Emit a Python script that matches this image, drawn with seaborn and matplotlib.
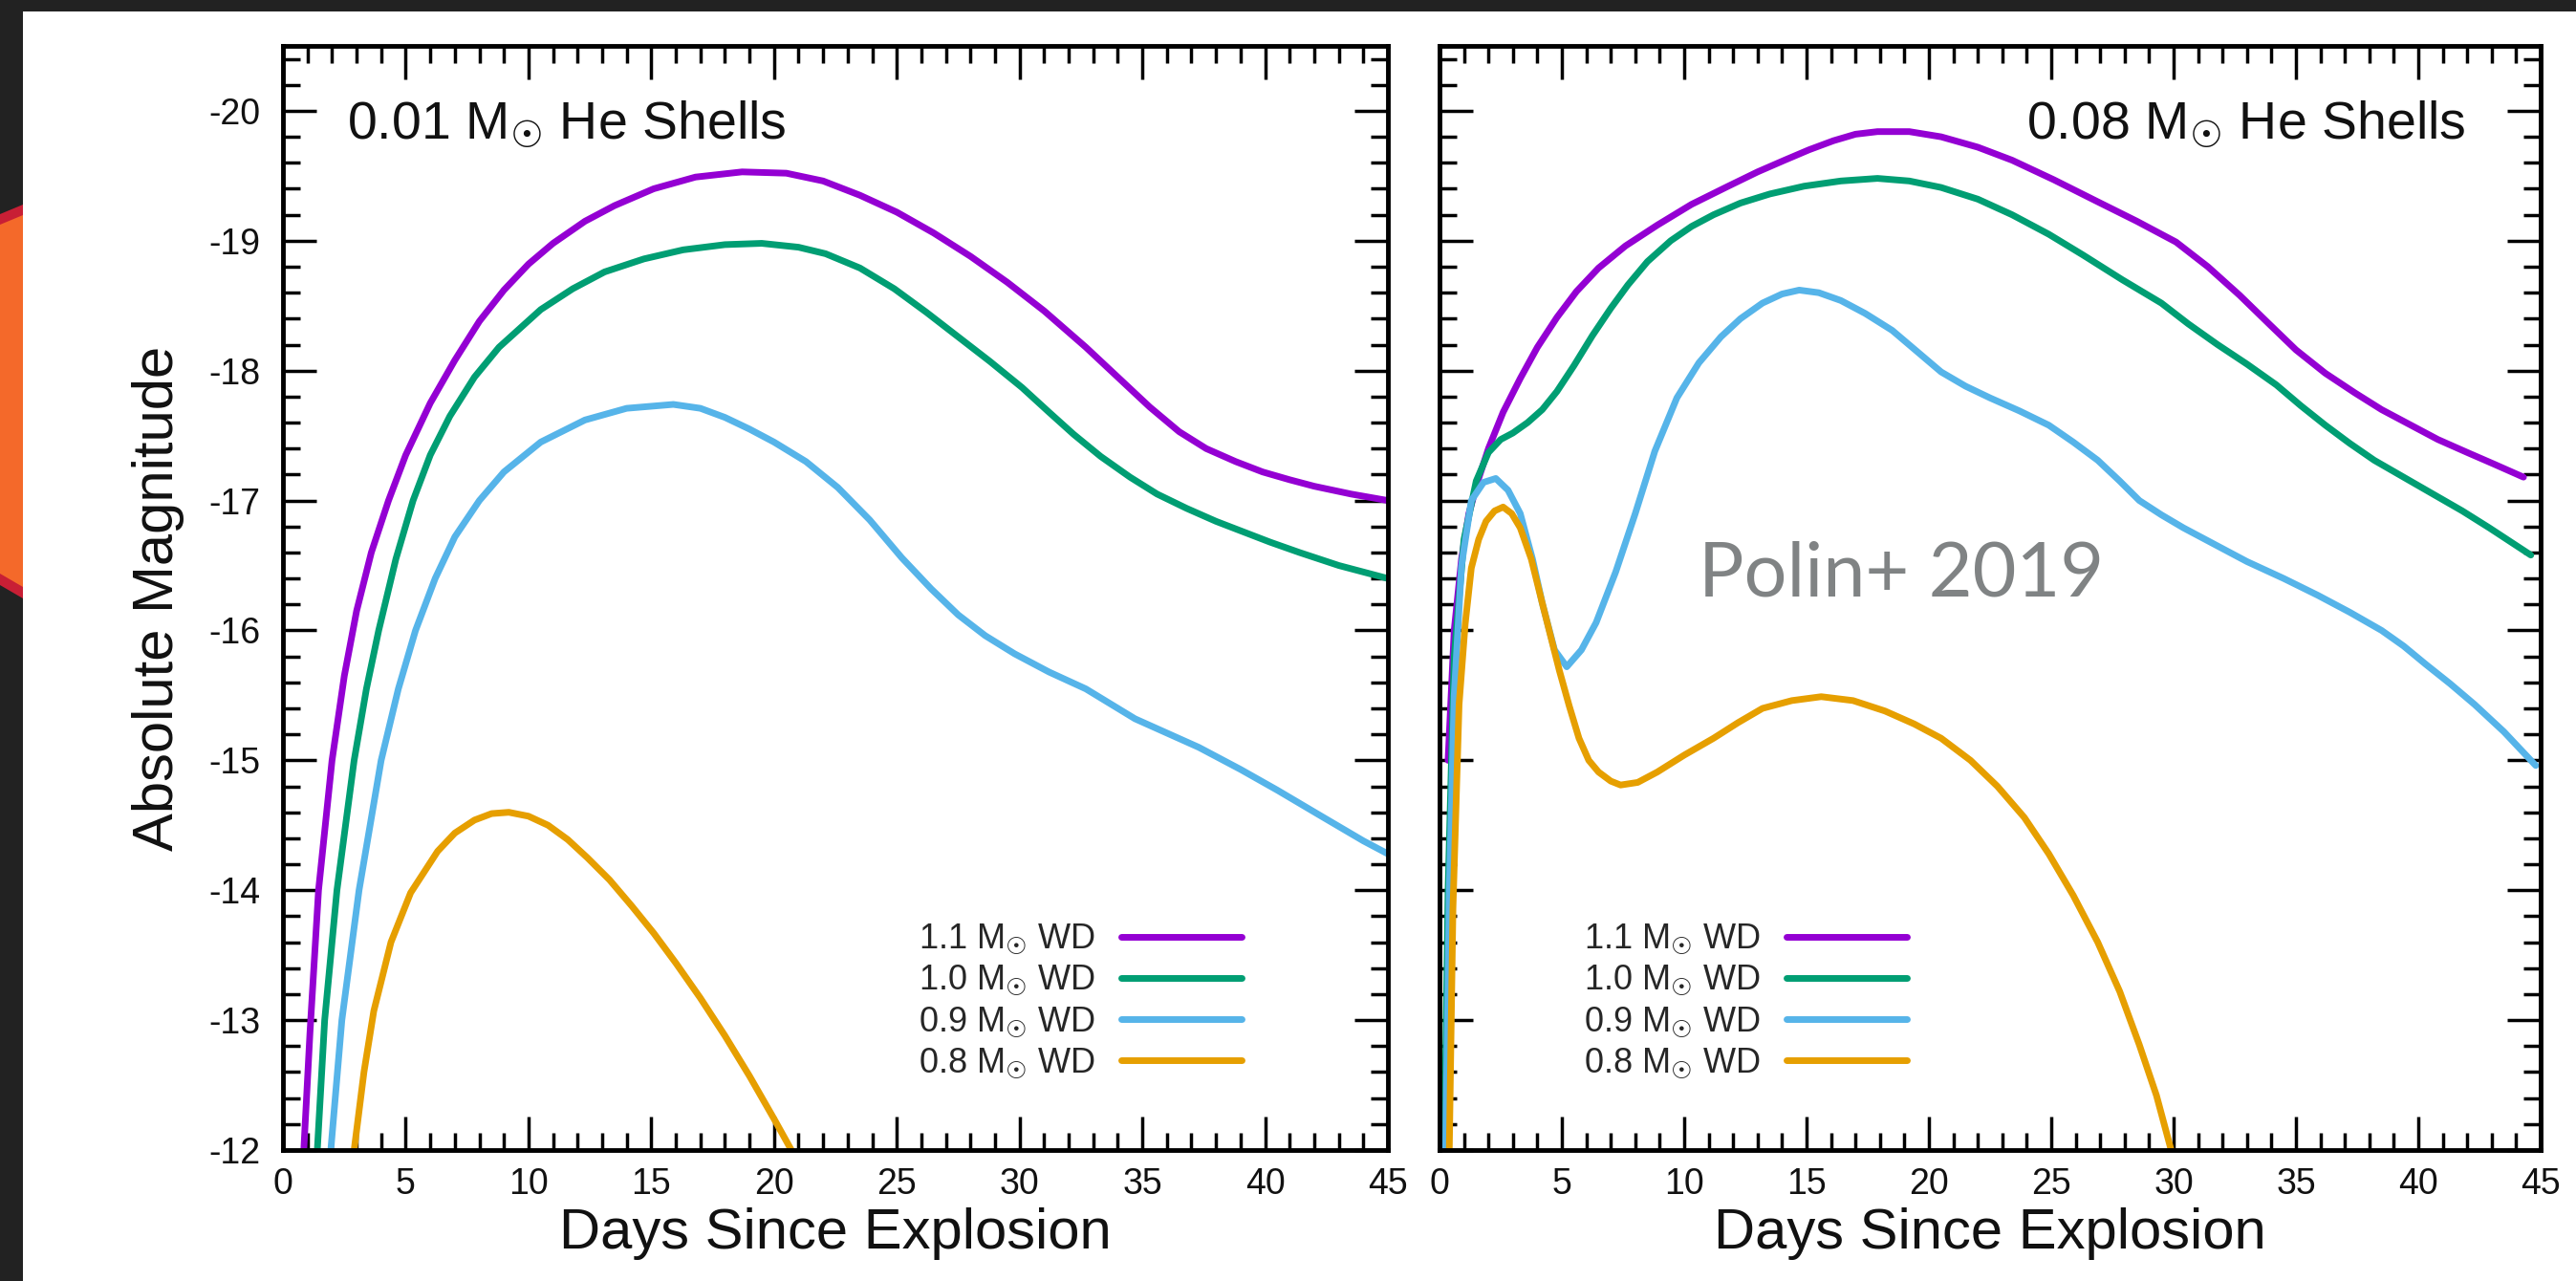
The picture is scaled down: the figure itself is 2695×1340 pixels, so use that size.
import numpy as np
import pandas as pd
import matplotlib
matplotlib.use("Agg")
import matplotlib.pyplot as plt
from matplotlib.patches import Polygon, Rectangle
from matplotlib.ticker import MultipleLocator
import seaborn as sns

# ---------------- data ----------------
labels = ["1.1 M$_{☉}$ WD", "1.0 M$_{☉}$ WD", "0.9 M$_{☉}$ WD", "0.8 M$_{☉}$ WD"]
colors = ["#9400D3", "#009E73", "#56B4E9", "#E69F00"]

# left panel: 0.01 Msun He shells
l11_day = [0.85, 1.1, 1.45, 2.0, 2.5, 3.0, 3.6, 4.3, 5.0, 6.0, 7.0, 8.0, 9.0, 10.0, 11.0, 12.3, 13.5, 15.1, 16.8, 18.7,
           20.5, 22.0, 23.5, 25.0, 26.5, 28.0, 29.5, 31.0, 32.7, 34.0, 35.3, 36.5, 37.6, 38.8, 39.9, 41.0, 42.0, 43.5, 45.0]
l11_mag = [-12.0, -12.9, -14.0, -15.0, -15.65, -16.15, -16.6, -17.0, -17.35, -17.75, -18.08, -18.38, -18.62, -18.82, -18.98, -19.15, -19.27, -19.4, -19.49, -19.53,
           -19.52, -19.46, -19.35, -19.22, -19.06, -18.88, -18.68, -18.46, -18.18, -17.95, -17.72, -17.53, -17.4, -17.3, -17.22, -17.16, -17.11, -17.05, -17.0]
l10_day = [1.4, 1.7, 2.2, 2.9, 3.4, 3.9, 4.6, 5.3, 6.0, 6.8, 7.8, 8.8, 10.5, 11.8, 13.1, 14.7, 16.3, 18.0, 19.5, 21.0,
           22.1, 23.5, 24.9, 26.2, 27.5, 28.8, 30.1, 31.2, 32.2, 33.3, 34.5, 35.6, 36.8, 38.0, 39.1, 40.2, 41.4, 43.0, 45.0]
l10_mag = [-12.0, -13.0, -14.0, -15.0, -15.55, -16.0, -16.55, -17.0, -17.35, -17.65, -17.95, -18.18, -18.47, -18.63, -18.76, -18.86, -18.93, -18.97, -18.98, -18.95,
           -18.9, -18.79, -18.63, -18.45, -18.26, -18.07, -17.87, -17.68, -17.51, -17.34, -17.18, -17.05, -16.94, -16.84, -16.76, -16.68, -16.6, -16.5, -16.4]
l09_day = [1.95, 2.4, 3.1, 4.0, 4.7, 5.4, 6.2, 7.0, 8.0, 9.0, 10.5, 12.3, 14.0, 15.9, 17.0, 18.0, 19.0, 20.0, 21.3, 22.6,
           23.9, 25.2, 26.4, 27.5, 28.6, 29.8, 31.2, 32.7, 34.7, 37.3, 39.0, 40.5, 42.2, 44.0, 45.0]
l09_mag = [-12.0, -13.0, -14.0, -15.0, -15.55, -16.0, -16.4, -16.72, -17.0, -17.22, -17.45, -17.62, -17.71, -17.74, -17.71, -17.64, -17.55, -17.45, -17.3, -17.1,
           -16.85, -16.56, -16.32, -16.12, -15.96, -15.82, -15.68, -15.55, -15.32, -15.1, -14.93, -14.77, -14.58, -14.38, -14.28]
l08_day = [2.9, 3.3, 3.7, 4.4, 5.2, 6.3, 7.0, 7.8, 8.5, 9.2, 10.0, 10.8, 11.6, 12.4, 13.3, 14.2, 15.1, 16.0, 17.0, 18.0, 19.0, 20.0, 21.0]
l08_mag = [-12.0, -12.6, -13.07, -13.6, -13.98, -14.3, -14.44, -14.54, -14.59, -14.6, -14.57, -14.5, -14.39, -14.25, -14.08, -13.88, -13.67, -13.44, -13.17, -12.88, -12.57, -12.24, -11.9]

# right panel: 0.08 Msun He shells
r11_day = [0.35, 0.6, 0.9, 1.2, 1.6, 2.0, 2.6, 3.3, 4.0, 4.8, 5.6, 6.5, 7.6, 8.9, 10.3, 11.8, 13.0, 14.1, 15.1, 16.1, 17.0, 17.9, 19.2,
           20.5, 22.0, 23.4, 25.1, 26.9, 28.5, 30.1, 31.4, 32.7, 33.9, 35.0, 36.2, 37.4, 38.5, 39.7, 40.8, 42.0, 43.1, 44.3]
r11_mag = [-15.0, -16.0, -16.55, -16.9, -17.17, -17.4, -17.68, -17.94, -18.18, -18.41, -18.61, -18.79, -18.96, -19.12, -19.28, -19.42, -19.53, -19.62, -19.7, -19.77, -19.82, -19.84, -19.84,
           -19.8, -19.72, -19.62, -19.47, -19.3, -19.15, -18.99, -18.8, -18.58, -18.36, -18.16, -17.98, -17.83, -17.7, -17.58, -17.47, -17.37, -17.28, -17.18]
r10_day = [0.2, 0.35, 0.6, 1.0, 1.5, 2.0, 2.5, 3.0, 3.6, 4.2, 4.8, 5.5, 6.25, 7.0, 7.7, 8.5, 9.45, 10.3, 11.2, 12.3, 13.5, 14.9, 16.4,
           17.9, 19.2, 20.5, 22.0, 23.4, 24.9, 26.3, 27.9, 29.5, 30.6, 31.8, 33.0, 34.2, 35.2, 36.2, 37.2, 38.2, 39.4, 40.6, 41.8, 42.9, 44.6]
r10_mag = [-12.0, -14.0, -15.8, -16.7, -17.15, -17.37, -17.47, -17.52, -17.6, -17.7, -17.84, -18.04, -18.27, -18.48, -18.66, -18.84, -19.0, -19.11, -19.2, -19.29, -19.36, -19.42, -19.46,
           -19.48, -19.46, -19.41, -19.32, -19.2, -19.05, -18.89, -18.7, -18.52, -18.36, -18.2, -18.05, -17.89, -17.73, -17.58, -17.44, -17.31, -17.18, -17.05, -16.92, -16.79, -16.58]
r09_day = [0.25, 0.4, 0.6, 0.9, 1.3, 1.8, 2.3, 2.8, 3.3, 3.8, 4.2, 4.7, 5.2, 5.8, 6.4, 7.2, 8.0, 8.8, 9.7, 10.6, 11.5, 12.3, 13.2, 14.0, 14.7, 15.5,
           16.4, 17.4, 18.5, 19.5, 20.5, 21.5, 22.5, 23.7, 24.9, 25.9, 26.9, 27.8, 28.6, 29.5, 30.4, 31.7, 33.0, 34.5, 35.9, 37.2, 38.5, 39.4, 40.3, 41.3, 42.3, 43.5, 44.8]
r09_mag = [-12.0, -14.0, -15.5, -16.5, -17.0, -17.14, -17.17, -17.08, -16.9, -16.55, -16.21, -15.85, -15.72, -15.85, -16.06, -16.45, -16.9, -17.38, -17.79, -18.06, -18.26, -18.4, -18.52, -18.59, -18.62, -18.6,
           -18.54, -18.44, -18.31, -18.15, -17.99, -17.88, -17.79, -17.69, -17.58, -17.45, -17.31, -17.15, -17.0, -16.89, -16.79, -16.66, -16.53, -16.4, -16.27, -16.14, -16.0, -15.88, -15.74, -15.59, -15.43, -15.22, -14.96]
r08_day = [0.4, 0.55, 0.8, 1.05, 1.3, 1.6, 1.9, 2.25, 2.6, 2.95, 3.3, 3.75, 4.2, 4.55, 4.9, 5.3, 5.7, 6.1, 6.5, 7.0, 7.4, 8.1,
           8.9, 10.0, 11.2, 12.2, 13.2, 14.4, 15.6, 16.9, 18.2, 19.4, 20.5, 21.7, 22.8, 23.9, 24.9, 25.9, 26.9, 27.8, 28.6, 29.3, 29.9, 30.3]
r08_mag = [-12.0, -13.86, -15.43, -16.05, -16.48, -16.7, -16.84, -16.92, -16.95, -16.9, -16.79, -16.55, -16.21, -15.95, -15.69, -15.42, -15.17, -15.0, -14.91, -14.84, -14.81, -14.83,
           -14.91, -15.04, -15.17, -15.29, -15.4, -15.46, -15.49, -15.46, -15.38, -15.28, -15.17, -15.0, -14.8, -14.56, -14.28, -13.96, -13.6, -13.22, -12.81, -12.42, -12.0, -11.8]

x_ticks = [0, 5, 10, 15, 20, 25, 30, 35, 40, 45]
y_ticks = [-20, -19, -18, -17, -16, -15, -14, -13, -12]


def long_frame(series):
    parts = []
    for lab, (d, m) in zip(labels, series):
        parts.append(pd.DataFrame({"day": d, "mag": m, "model": lab}))
    return pd.concat(parts, ignore_index=True)


df_left = long_frame([(l11_day, l11_mag), (l10_day, l10_mag), (l09_day, l09_mag), (l08_day, l08_mag)])
df_right = long_frame([(r11_day, r11_mag), (r10_day, r10_mag), (r09_day, r09_mag), (r08_day, r08_mag)])

# ---------------- style ----------------
sns.set_style("ticks")
plt.rcParams['font.family'] = ['Liberation Sans', 'DejaVu Sans']
plt.rcParams['mathtext.fontset'] = 'dejavusans'
plt.rcParams['axes.unicode_minus'] = False

W, H = 2695, 1340
fig = plt.figure(figsize=(W / 100, H / 100), dpi=100, facecolor='#222222')


def fx(x):
    return x / W


def fy(y):
    return 1 - y / H


# slide decoration: orange hexagon edge, white panel
fig.patches.append(Polygon([(fx(0), fy(224)), (fx(24), fy(214)), (fx(24), fy(626)), (fx(0), fy(612))],
                           closed=True, transform=fig.transFigure, facecolor='#c81f35', edgecolor='none', zorder=-3))
fig.patches.append(Polygon([(fx(0), fy(235)), (fx(24), fy(225)), (fx(24), fy(614)), (fx(0), fy(600))],
                           closed=True, transform=fig.transFigure, facecolor='#f4692a', edgecolor='none', zorder=-2))
fig.patches.append(Rectangle((fx(24), 0), 1 - fx(24), fy(12), transform=fig.transFigure,
                             facecolor='white', edgecolor='none', zorder=-1))

pal = dict(zip(labels, colors))
ax_bottom = fy(1203)
ax_h = (1203 - 48) / H
axL = fig.add_axes([fx(296), ax_bottom, 1156 / W, ax_h])
axR = fig.add_axes([fx(1506), ax_bottom, 1152 / W, ax_h])

for ax, df, ttl, tx, ha, leg_x in [
        (axL, df_left, "0.01 M$_{☉}$ He Shells", 0.058, 'left', 0.868),
        (axR, df_right, "0.08 M$_{☉}$ He Shells", 0.932, 'right', 0.4245)]:
    sns.lineplot(data=df, x='day', y='mag', hue='model', hue_order=labels, palette=pal,
                 linewidth=5, estimator=None, sort=False, legend=False, ax=ax)
    ax.set_xlim(0, 45)
    ax.set_ylim(-12, -20.5)
    ax.set_xticks(x_ticks)
    ax.set_xticklabels([str(t) for t in x_ticks])
    ax.set_yticks(y_ticks)
    ax.set_yticklabels([str(t) for t in y_ticks])
    ax.xaxis.set_minor_locator(MultipleLocator(1))
    ax.yaxis.set_minor_locator(MultipleLocator(0.2))
    ax.tick_params(which='both', direction='in', top=True, right=True, width=2.5, color='black',
                   labelsize=27, labelcolor='#111111')
    ax.tick_params(which='major', length=25)
    ax.tick_params(which='minor', length=13)
    ax.tick_params(axis='x', which='major', pad=13)
    ax.tick_params(axis='y', which='major', pad=17)
    for s in ax.spines.values():
        s.set_linewidth(3.5)
        s.set_color('black')
    ax.set_facecolor('white')
    ax.set_xlabel('Days Since Explosion', fontsize=43, labelpad=4, color='#111111')
    ax.text(tx, 0.916, ttl, transform=ax.transAxes, fontsize=40, ha=ha, va='baseline', color='#111111')
    ax.legend(handles=ax.lines[:4], labels=labels, loc='center right', bbox_to_anchor=(leg_x, 0.135),
              frameon=False, markerfirst=False, handlelength=3.5, handletextpad=0.75,
              labelspacing=0.2, borderpad=0, borderaxespad=0, fontsize=26)

axL.set_ylabel('Absolute Magnitude', fontsize=43, labelpad=18, color='#111111')
axR.set_ylabel('')
axR.tick_params(labelleft=False)

fig.text(fx(1777), fy(623), 'Polin+ 2019', fontsize=57, color='#808384',
         family=['Lato', 'DejaVu Sans'], ha='left', va='baseline')

fig.savefig('out.png', dpi=100, facecolor=fig.get_facecolor())
